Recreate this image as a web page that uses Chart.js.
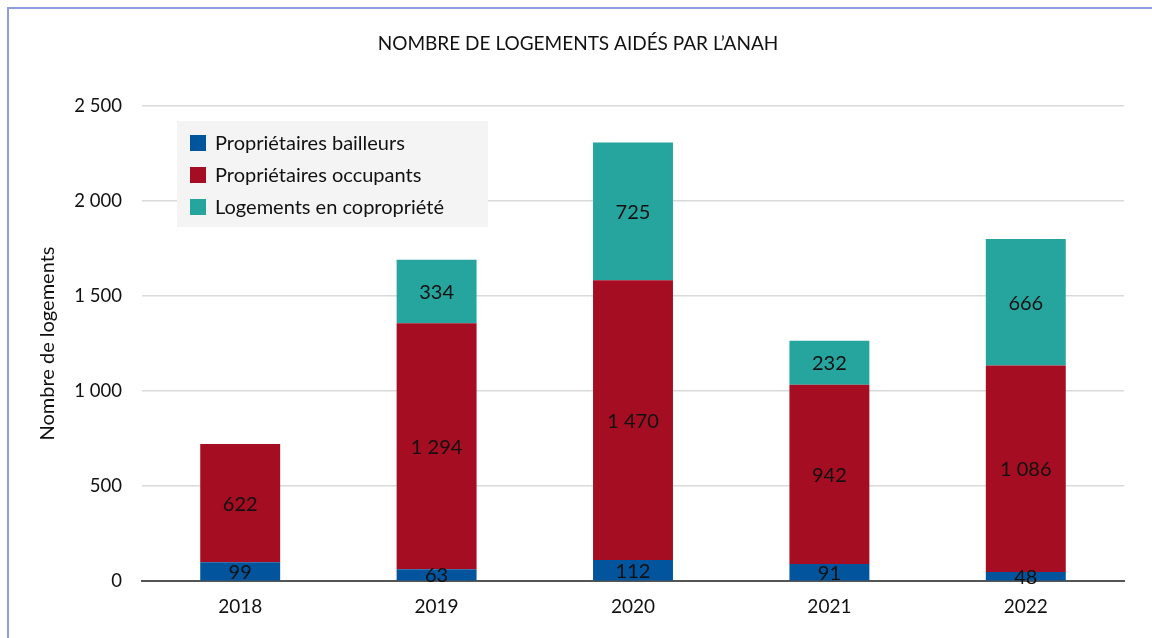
<!DOCTYPE html>
<html>
<head>
<meta charset="utf-8">
<script src="https://cdn.jsdelivr.net/npm/chart.js@4"></script>
<style>
    body { margin: 0; background: #fff; }
    #wrap { position: relative; width: 1152px; height: 638px; overflow: hidden; }
    #frame { position: absolute; left: 7px; top: 7px; width: 1200px; height: 700px; border: 2px solid #8e9de0; box-sizing: border-box; }
    #myChart { position: absolute; left: 0; top: 0; }
</style>
</head>
<body>
<div id="wrap">
    <div id="frame"></div>
    <canvas id="myChart" width="1152" height="638"></canvas>
</div>
<script>
const years = ['2018', '2019', '2020', '2021', '2022'];

const bailleurs = [99, 63, 112, 91, 48];
const occupants = [622, 1294, 1470, 942, 1086];
const copro = [null, 334, 725, 232, 666];

const yTicks = [0, 500, 1000, 1500, 2000, 2500];

const FONT = 'Lato, "Open Sans", sans-serif';

function fmt(n) {
    return String(n).replace(/\B(?=(\d{3})+(?!\d))/g, ' ');
}

// draws the value in the middle of each bar segment
const barLabels = {
    id: 'barLabels',
    afterDatasetsDraw(chart) {
        const ctx = chart.ctx;
        ctx.save();
        ctx.fillStyle = '#111';
        ctx.font = '20px ' + FONT;
        ctx.textAlign = 'center';
        ctx.textBaseline = 'middle';
        chart.data.datasets.forEach((ds, i) => {
            chart.getDatasetMeta(i).data.forEach((bar, j) => {
                const v = ds.data[j];
                if (v == null) return;
                const p = bar.getProps(['x', 'y', 'base'], true);
                ctx.fillText(fmt(v), p.x, (p.y + p.base) / 2 + 1);
            });
        });
        ctx.restore();
    }
};

// legend box inside the plot, top left
const boxLegend = {
    id: 'boxLegend',
    afterDraw(chart) {
        const ctx = chart.ctx;
        ctx.save();
        ctx.fillStyle = '#f4f4f4';
        ctx.fillRect(177, 121, 311, 106);
        ctx.font = '20px ' + FONT;
        ctx.textBaseline = 'middle';
        chart.data.datasets.forEach((ds, i) => {
            const y = 143 + i * 32;
            ctx.fillStyle = ds.backgroundColor;
            ctx.fillRect(190, y - 8, 16, 16);
            ctx.fillStyle = '#111';
            ctx.fillText(ds.label, 215, y + 1);
        });
        ctx.restore();
    }
};

const data = {
    labels: years,
    datasets: [
        { label: 'Propriétaires bailleurs', data: bailleurs, backgroundColor: '#02559c' },
        { label: 'Propriétaires occupants', data: occupants, backgroundColor: '#a50e22' },
        { label: 'Logements en copropriété', data: copro, backgroundColor: '#26a59e' },
    ]
};

const config = {
    type: 'bar',
    data: data,
    plugins: [barLabels, boxLegend],
    options: {
        responsive: false,
        animation: false,
        categoryPercentage: 1,
        barPercentage: 0.407,
        layout: {
            padding: { left: 32, right: 28, top: 0, bottom: 6 }
        },
        plugins: {
            legend: { display: false },
            tooltip: { enabled: false },
            title: {
                display: true,
                text: 'NOMBRE DE LOGEMENTS AIDÉS PAR L\u2019ANAH',
                color: '#111',
                font: { family: FONT, size: 19, weight: 'normal' },
                padding: { top: 32, bottom: 51 }
            }
        },
        scales: {
            x: {
                stacked: true,
                grid: { display: false, drawTicks: false },
                border: { display: true, color: '#555', width: 2 },
                ticks: {
                    color: '#111',
                    padding: 14,
                    font: { family: FONT, size: 19 }
                }
            },
            y: {
                stacked: true,
                min: 0,
                max: 2500,
                afterFit(scale) { scale.width = 110; },
                afterBuildTicks(scale) { scale.ticks = yTicks.map(v => ({ value: v })); },
                grid: { color: '#d9d9d9', drawTicks: false, lineWidth: 1.5 },
                border: { display: false },
                ticks: {
                    color: '#111',
                    padding: 20,
                    font: { family: FONT, size: 18.5 },
                    callback: v => fmt(v)
                },
                title: {
                    display: true,
                    text: 'Nombre de logements',
                    color: '#111',
                    font: { family: FONT, size: 20 },
                    padding: { top: 4 }
                }
            }
        }
    }
};

const myChart = new Chart(document.getElementById('myChart'), config);
</script>
</body>
</html>
